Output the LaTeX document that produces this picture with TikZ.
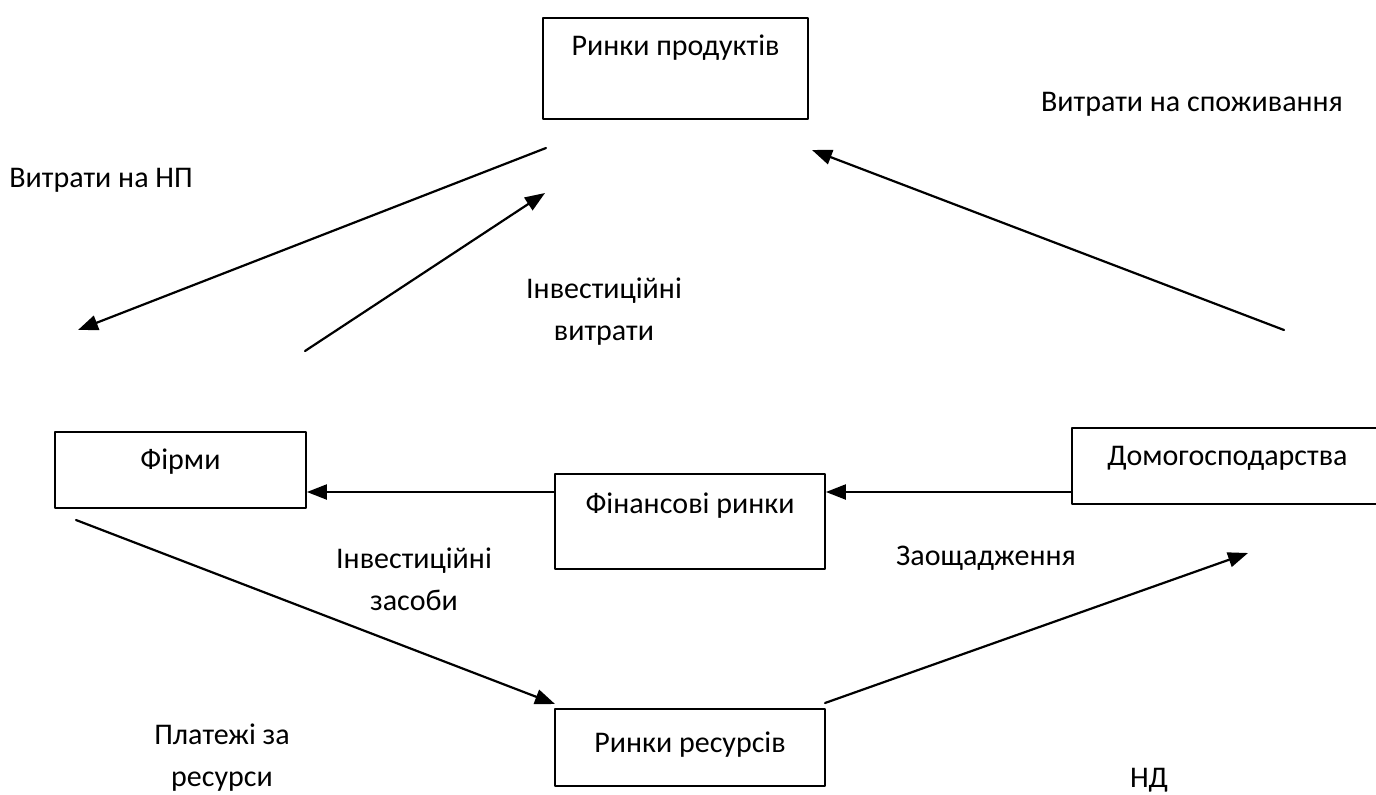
\documentclass[tikz,border=0pt]{standalone}
\usepackage{fontspec}
\setmainfont{Carlito}
\usetikzlibrary{arrows.meta}
\begin{document}
\begin{tikzpicture}[x=0.5pt, y=-0.5pt, line join = round, line cap = round,
  box/.style={draw, line width=0.9pt, inner sep=0pt, anchor=north, font=\fontsize{15}{21}\selectfont},
  lbl/.style={inner sep=0pt, align=center, font=\fontsize{15}{21}\selectfont},
  flow/.style={-{Triangle[length=10pt,width=7.5pt]}, line width=1.1pt}]
\useasboundingbox (0,0) rectangle (1376,794);

% markets and sectors
\node[box, minimum width=132.5pt, text height=19pt, text depth=31.5pt] (prod) at (675.5,17) {Ринки продуктів};
\node[box, minimum width=125.5pt, text height=19pt, text depth=19pt] (firms) at (180.5,431) {Фірми};
\node[box, minimum width=135pt, text height=20pt, text depth=27.5pt] (fin) at (690,473) {Фінансові ринки};
\node[box, minimum width=155.5pt, text height=19pt, text depth=19pt] (home) at (1227.5,427) {Домогосподарства};
\node[box, minimum width=135pt, text height=22pt, text depth=16.5pt] (res) at (690,708) {Ринки ресурсів};

% free ends of the flows
\coordinate (gS) at (546,148);
\coordinate (gE) at (78,330);
\coordinate (iS) at (305,351);
\coordinate (iE) at (545,193);
\coordinate (cS) at (1284,330);
\coordinate (cE) at (812,150);
\coordinate (pS) at (76,520);
\coordinate (pE) at (555,704);
\coordinate (yS) at (825,703);
\coordinate (yE) at (1248,553);

% upper loop
\draw[flow] (gS) -- (gE); % government spending
\draw[flow] (iS) -- (iE); % investment
\draw[flow] (cS) -- (cE); % consumption

% financial markets
\draw[flow] ([yshift=-9.5pt]fin.north west) -- ([yshift=-9.5pt]fin.north west -| firms.east);
\draw[flow] ([yshift=-32.5pt]home.north west) -- ([yshift=-32.5pt]home.north west -| fin.east);

% lower loop
\draw[flow] (pS) -- (pE); % payments
\draw[flow] (yS) -- (yE); % income

% flow labels
\node[lbl, anchor=base west] (lg) at (9,187) {Витрати на НП};
\node[lbl, anchor=base] (lc) at (1192,111) {Витрати на споживання};
\node[lbl, anchor=base] (li) at (604,340) {Інвестиційні\\витрати};
\node[lbl, anchor=base] (lf) at (414,610) {Інвестиційні\\засоби};
\node[lbl, anchor=base] (ls) at (986,565) {Заощадження};
\node[lbl, anchor=base] (lp) at (222,786) {Платежі за\\ресурси};
\node[lbl, anchor=base] (ly) at (1149,787) {НД};

\end{tikzpicture}
\end{document}
